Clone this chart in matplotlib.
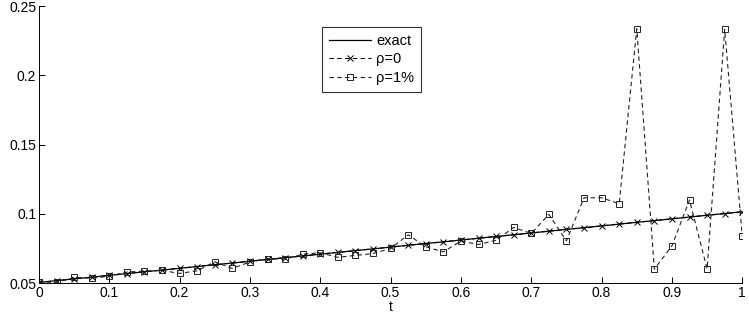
import numpy as np
import matplotlib
matplotlib.use("Agg")
import matplotlib.pyplot as plt

plt.rcParams['font.family'] = ['Liberation Sans', 'DejaVu Sans']

# time grid (41 points, step 0.025)
t = [0.0, 0.025, 0.05, 0.075, 0.1, 0.125, 0.15, 0.175, 0.2, 0.225,
     0.25, 0.275, 0.3, 0.325, 0.35, 0.375, 0.4, 0.425, 0.45, 0.475,
     0.5, 0.525, 0.55, 0.575, 0.6, 0.625, 0.65, 0.675, 0.7, 0.725,
     0.75, 0.775, 0.8, 0.825, 0.85, 0.875, 0.9, 0.925, 0.95, 0.975, 1.0]

exact = [0.0505, 0.0518, 0.0531, 0.0543, 0.0556, 0.0569, 0.0582, 0.0594, 0.0607, 0.0620,
         0.0633, 0.0645, 0.0658, 0.0671, 0.0684, 0.0696, 0.0709, 0.0722, 0.0735, 0.0747,
         0.0760, 0.0773, 0.0786, 0.0798, 0.0811, 0.0824, 0.0837, 0.0849, 0.0862, 0.0875,
         0.0888, 0.0900, 0.0913, 0.0926, 0.0939, 0.0951, 0.0964, 0.0977, 0.0990, 0.1002, 0.1015]

rho0 = [0.0505, 0.0518, 0.0531, 0.0543, 0.0556, 0.0569, 0.0582, 0.0594, 0.0607, 0.0620,
        0.0633, 0.0645, 0.0658, 0.0671, 0.0684, 0.0696, 0.0709, 0.0722, 0.0735, 0.0747,
        0.0760, 0.0773, 0.0786, 0.0798, 0.0811, 0.0824, 0.0837, 0.0849, 0.0862, 0.0875,
        0.0888, 0.0900, 0.0913, 0.0926, 0.0939, 0.0951, 0.0964, 0.0977, 0.0990, 0.1002, 0.1015]

rho1 = [0.0509, 0.0505, 0.0541, 0.0536, 0.0550, 0.0580, 0.0587, 0.0592, 0.0570, 0.0589,
        0.0654, 0.0606, 0.0653, 0.0676, 0.0673, 0.0709, 0.0719, 0.0686, 0.0700, 0.0714,
        0.0750, 0.0849, 0.0762, 0.0726, 0.0803, 0.0779, 0.0809, 0.0902, 0.0859, 0.0996,
        0.0805, 0.1116, 0.1116, 0.1073, 0.2336, 0.0601, 0.0769, 0.1100, 0.0603, 0.2332, 0.0837]

fig = plt.figure(figsize=(7.49, 3.16), dpi=100)
ax = fig.add_axes([0.052, 0.104, 0.939, 0.877])

ax.plot(t, exact, color='black', lw=0.9, label='exact')
ax.plot(t, rho0, color='black', lw=0.8, ls=(0, (4, 3)), marker='x', ms=4,
        mew=0.7, label='ρ=0')
ax.plot(t, rho1, color='#222222', lw=0.8, ls=(0, (4, 3)), marker='s', ms=5,
        mfc='none', mew=0.7, label='ρ=1%')

ax.set_xlim(0, 1)
ax.set_ylim(0.05, 0.25)
ax.set_xticks(np.arange(0, 1.01, 0.1))
ax.set_xticklabels(['0', '0.1', '0.2', '0.3', '0.4', '0.5', '0.6', '0.7', '0.8', '0.9', '1'])
ax.set_yticks([0.05, 0.1, 0.15, 0.2, 0.25])
ax.set_yticklabels(['0.05', '0.1', '0.15', '0.2', '0.25'])
ax.tick_params(direction='in', length=4, width=0.7, labelsize=10, pad=2)
ax.spines['top'].set_visible(False)
ax.spines['right'].set_visible(False)
for s in ('left', 'bottom'):
    ax.spines[s].set_linewidth(0.7)
ax.set_xlabel('t', fontsize=10, labelpad=0)

leg = ax.legend(loc='upper left', bbox_to_anchor=(0.4026, 0.924), borderaxespad=0,
                fontsize=10.5, frameon=True, fancybox=False, edgecolor='black',
                handlelength=2.9, borderpad=0.45, labelspacing=0.33, handletextpad=0.35)
leg.get_frame().set_linewidth(0.8)

fig.savefig('out.png', dpi=100)
